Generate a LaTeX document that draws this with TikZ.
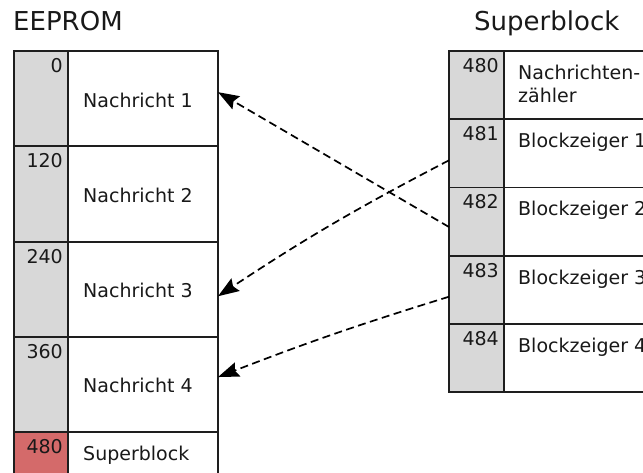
\documentclass[tikz,border=0pt]{standalone}
\usepackage{fontspec}
\setmainfont{DejaVu Sans}
\usetikzlibrary{arrows.meta,calc}
\definecolor{cellgrey}{RGB}{216,216,216}
\definecolor{cellred}{RGB}{212,106,106}
\definecolor{linecol}{RGB}{30,30,30}
\begin{document}
\begin{tikzpicture}[x=1pt,y=-1pt,
  box/.style={draw=linecol, line width=1.8pt, inner sep=0pt, outer sep=0pt, anchor=north west, rectangle},
  laddr/.style={box, fill=cellgrey, minimum width=54pt, minimum height=95.3pt},
  lcell/.style={box, fill=white, minimum width=150pt, minimum height=95.3pt},
  raddr/.style={box, fill=cellgrey, minimum width=55pt, minimum height=68.2pt},
  rcell/.style={box, fill=white, minimum width=190pt, minimum height=68.2pt},
  txt/.style={inner sep=0pt, font=\fontsize{19}{23}\selectfont, text=black!90},
  num/.style={txt, anchor=base east},
  lab/.style={txt, anchor=base west},
  title/.style={inner sep=0pt, font=\fontsize{26}{30}\selectfont, text=black!90, anchor=base west},
  ptr/.style={draw=black, line width=1.7pt, dash pattern=on 8pt off 4.5pt, -{Stealth[length=21pt,width=15pt,inset=3pt]}}
]
\useasboundingbox (0,0) rectangle (643,472);
\clip (0,0) rectangle (643,472);
% titles
\node[title] (t1) at (13,30) {EEPROM};
\node[title] (t2) at (474,30) {Superblock};
% EEPROM
\node[laddr] (a0) at (14,51) {};
\node[laddr] (a1) at (14,146.3) {};
\node[laddr] (a2) at (14,241.6) {};
\node[laddr] (a3) at (14,336.9) {};
\node[laddr, fill=cellred] (a4) at (14,432.2) {};
\node[lcell] (m1) at (68,51) {};
\node[lcell] (m2) at (68,146.3) {};
\node[lcell] (m3) at (68,241.6) {};
\node[lcell] (m4) at (68,336.9) {};
\node[lcell] (m5) at (68,432.2) {};
\node[num] (n0) at ($(a0.north east)+(-5,21.5)$) {0};
\node[num] (n1) at ($(a1.north east)+(-5,21.5)$) {120};
\node[num] (n2) at ($(a2.north east)+(-5,21.5)$) {240};
\node[num] (n3) at ($(a3.north east)+(-5,21.5)$) {360};
\node[num] (n4) at ($(a4.north east)+(-5,21.5)$) {480};
\node[lab] (x1) at ($(m1.north west)+(15,56)$) {Nachricht 1};
\node[lab] (x2) at ($(m2.north west)+(15,56)$) {Nachricht 2};
\node[lab] (x3) at ($(m3.north west)+(15,56)$) {Nachricht 3};
\node[lab] (x4) at ($(m4.north west)+(15,56)$) {Nachricht 4};
\node[lab] (x5) at ($(m5.north west)+(15,28)$) {Superblock};
% Superblock
\node[raddr] (b0) at (449,51) {};
\node[raddr] (b1) at (449,119.2) {};
\node[raddr] (b2) at (449,187.4) {};
\node[raddr] (b3) at (449,255.6) {};
\node[raddr] (b4) at (449,323.8) {};
\node[rcell] (c0) at (504,51) {};
\node[rcell] (c1) at (504,119.2) {};
\node[rcell] (c2) at (504,187.4) {};
\node[rcell] (c3) at (504,255.6) {};
\node[rcell] (c4) at (504,323.8) {};
\node[num] (k0) at ($(b0.north east)+(-5,21.5)$) {480};
\node[num] (k1) at ($(b1.north east)+(-5,21.5)$) {481};
\node[num] (k2) at ($(b2.north east)+(-5,21.5)$) {482};
\node[num] (k3) at ($(b3.north east)+(-5,21.5)$) {483};
\node[num] (k4) at ($(b4.north east)+(-5,21.5)$) {484};
\node[lab, align=left] (y0) at ($(c0.north west)+(14,51)$) {Nachrichten-\\zähler};
\node[lab] (y1) at ($(c1.north west)+(14,28.5)$) {Blockzeiger 1};
\node[lab] (y2) at ($(c2.north west)+(14,28.5)$) {Blockzeiger 2};
\node[lab] (y3) at ($(c3.north west)+(14,28.5)$) {Blockzeiger 3};
\node[lab] (y4) at ($(c4.north west)+(14,28.5)$) {Blockzeiger 4};
% pointers
\draw[ptr] ([yshift=-5.5pt]b2.west) -- ([yshift=6.5pt]m1.east);
\draw[ptr] ([yshift=-7pt]b1.west) to[bend right=3] ([yshift=-7pt]m3.east);
\draw[ptr] ([yshift=-7pt]b3.west) to[bend right=2] ([yshift=7.5pt]m4.east);
\end{tikzpicture}
\end{document}
